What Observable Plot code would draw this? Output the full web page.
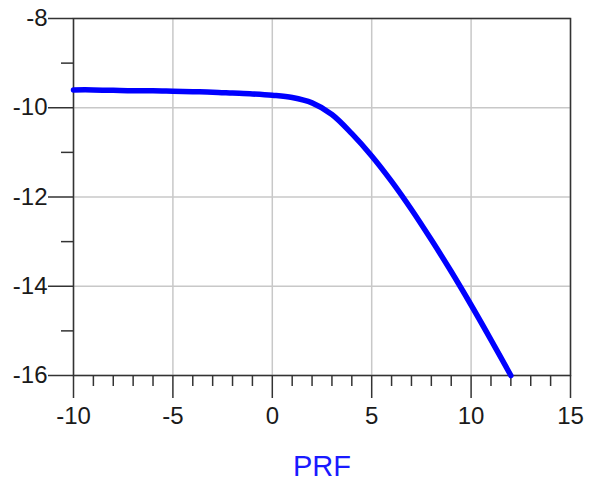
<!DOCTYPE html>
<html>
<head>
<meta charset="utf-8">
<script src="https://cdn.jsdelivr.net/npm/d3@7"></script>
<script src="https://cdn.jsdelivr.net/npm/@observablehq/plot@0.6"></script>
<style>
  html, body { margin: 0; padding: 0; background: #fff; }
  #chart { width: 596px; height: 491px; }
  svg { font-family: "Liberation Sans", Arial, sans-serif; }
</style>
</head>
<body>
<div id="chart"></div>
<script>
const xValues = [-10, -9, -8, -7, -6, -5, -4, -3, -2, -1, 0, 1, 2, 3, 4, 5, 6, 7, 8, 9, 10, 11, 12];
const yValues = [-9.60, -9.60, -9.61, -9.62, -9.62, -9.63, -9.64, -9.65, -9.67, -9.69, -9.72, -9.77, -9.89, -10.15, -10.58, -11.08, -11.65, -12.28, -12.96, -13.67, -14.42, -15.20, -16.0];
const xMajorTicks = [-10, -5, 0, 5, 10, 15];
const xMinorTicks = [-9, -8, -7, -6, -4, -3, -2, -1, 1, 2, 3, 4, 6, 7, 8, 9, 11, 12, 13, 14];
const yMajorTicks = [-8, -10, -12, -14, -16];
const yMinorTicks = [-9, -11, -13, -15];
const xLabel = "PRF";

const data = xValues.map((x, i) => ({x, y: yValues[i]}));

const axisColor = "#333";
const textColor = "#1a1a1a";
const fmt = d => String(d).replace("\u2212", "-");

const chart = Plot.plot({
  width: 596,
  height: 491,
  marginLeft: 73,
  marginRight: 26,
  marginTop: 18,
  marginBottom: 116,
  style: {fontFamily: "'Liberation Sans', Arial, sans-serif", fontSize: "24px", background: "#fff", overflow: "visible"},
  x: {domain: [-10, 15]},
  y: {domain: [-16, -8]},
  marks: [
    Plot.gridX(xMajorTicks, {stroke: "#c8c8c8", strokeOpacity: 1, strokeWidth: 1.5}),
    Plot.gridY(yMajorTicks, {stroke: "#c8c8c8", strokeOpacity: 1, strokeWidth: 1.5}),
    Plot.axisX(xMinorTicks, {tickSize: 11, tickFormat: () => "", stroke: axisColor, strokeWidth: 1.5, label: null}),
    Plot.axisX(xMajorTicks, {tickSize: 23, tickPadding: 8, fontSize: 24, fill: textColor, stroke: axisColor, strokeWidth: 1.5, label: null, tickFormat: fmt}),
    Plot.axisY(yMinorTicks, {tickSize: 12, tickFormat: () => "", stroke: axisColor, strokeWidth: 1.5, label: null}),
    Plot.axisY(yMajorTicks, {tickSize: 25, tickPadding: 1, fontSize: 24, fill: textColor, stroke: axisColor, strokeWidth: 1.5, label: null, tickFormat: fmt}),
    Plot.frame({stroke: axisColor, strokeWidth: 1.5}),
    Plot.line(data, {x: "x", y: "y", stroke: "#0000ff", strokeWidth: 5.5, curve: "catmull-rom"}),
    Plot.text([xLabel], {frameAnchor: "bottom", dy: 100, fill: "#1a1aff", fontSize: 29, text: d => d})
  ]
});
document.getElementById("chart").appendChild(chart);
</script>
</body>
</html>
